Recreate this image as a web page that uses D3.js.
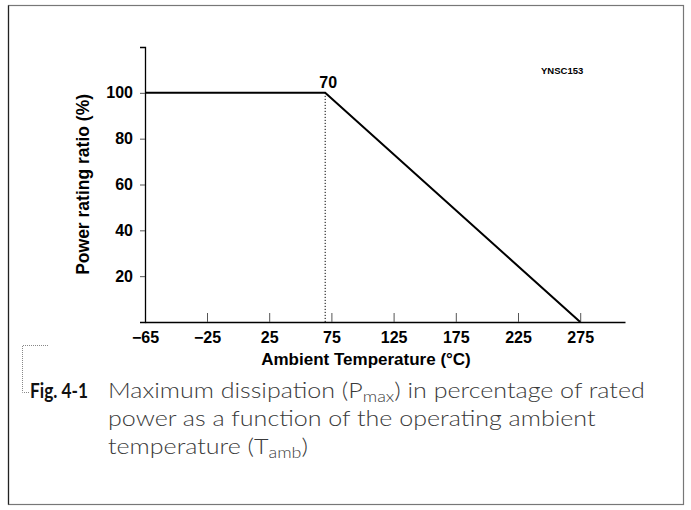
<!DOCTYPE html>
<html><head><meta charset="utf-8">
<script src="https://cdn.jsdelivr.net/npm/d3@7"></script>
<style>body{margin:0;background:#fff}svg{display:block}</style>
</head><body>
<svg id="c" width="691" height="510"></svg>
<script>
// ---- data ----
const temperatures = [-65, 70, 275];
const powerRatio = [100, 100, 0];
const xTickValues = [-65, -25, 25, 75, 125, 175, 225, 275];
const yTickValues = [20, 40, 60, 80, 100];
const kneeTemp = 70;
const chartCode = "YNSC153";
const xTitle = "Ambient Temperature (°C)";
const yTitle = "Power rating ratio (%)";
const figLabel = "Fig. 4-1";
const captionLine1 = [["Maximum dissipation (P", false], ["max", true], [") in percentage of rated", false]];
const captionLine2 = [["power as a function of the operating ambient", false]];
const captionLine3 = [["temperature (T", false], ["amb", true], [")", false]];

// ---- drawing ----
const svg = d3.select("#c");
const FONT = "'Liberation Sans', Arial, Helvetica, sans-serif";
const CAPFONT = "Lato, 'Open Sans', 'DejaVu Sans', sans-serif";

// frame
svg.append("rect").attr("x", 8.5).attr("y", 5.5).attr("width", 675).attr("height", 499)
  .attr("fill", "none").attr("stroke", "#777").attr("stroke-width", 1.2);
svg.append("line").attr("x1", 8.5).attr("x2", 8.5).attr("y1", 5.5).attr("y2", 504.5)
  .attr("stroke", "#222").attr("stroke-width", 1.2);

const x = d3.scaleLinear().domain([-65, -25, 311]).range([145, 207, 625]);
const y = d3.scaleLinear().domain([0, 120]).range([322, 47]);

// x axis
const gx = svg.append("g").attr("transform", `translate(0,${y(0)})`)
  .call(d3.axisBottom(x).tickValues(xTickValues).tickSizeInner(-9).tickSizeOuter(0).tickPadding(10));
gx.select(".domain").attr("stroke", "#000").attr("stroke-width", 1.3);
gx.selectAll(".tick line").attr("stroke", "#555").attr("stroke-width", 1)
  .filter(d => d === -65).remove();
gx.selectAll(".tick text").attr("font-family", FONT).attr("font-weight", "bold")
  .attr("font-size", 16).attr("fill", "#000");

// y axis
const gy = svg.append("g").attr("transform", `translate(${x(-65)},0)`)
  .call(d3.axisLeft(y).tickValues(yTickValues).tickSize(5).tickPadding(7));
gy.select(".domain").attr("stroke", "#000").attr("stroke-width", 1.3);
gy.selectAll(".tick line").attr("stroke", "#555").attr("stroke-width", 1);
gy.selectAll(".tick text").attr("font-family", FONT).attr("font-weight", "bold")
  .attr("font-size", 16).attr("fill", "#000");

// dotted knee line
svg.append("line")
  .attr("x1", x(kneeTemp)).attr("x2", x(kneeTemp))
  .attr("y1", y(100)).attr("y2", y(0))
  .attr("stroke", "#000").attr("stroke-width", 1).attr("stroke-dasharray", "1.2,1.8");

// derating curve
const pts = temperatures.map((t, i) => [t, powerRatio[i]]);
svg.append("path").datum(pts)
  .attr("d", d3.line().x(d => x(d[0])).y(d => y(d[1])))
  .attr("fill", "none").attr("stroke", "#000").attr("stroke-width", 2);

// knee label
svg.append("text").attr("x", x(kneeTemp) + 3).attr("y", y(100) - 5)
  .attr("text-anchor", "middle").attr("font-family", FONT).attr("font-weight", "bold")
  .attr("font-size", 16).text(String(kneeTemp));

// code label
svg.append("text").attr("x", 541).attr("y", 74)
  .attr("font-family", FONT).attr("font-weight", "bold").attr("font-size", 9.5)
  .text(chartCode);

// axis titles
svg.append("text").attr("transform", `translate(89,${(y(0) + y(100)) / 2 - 23}) rotate(-90)`)
  .attr("text-anchor", "middle").attr("font-family", FONT).attr("font-weight", "bold")
  .attr("font-size", 17.5).text(yTitle);
svg.append("text").attr("x", 366).attr("y", 365)
  .attr("text-anchor", "middle").attr("font-family", FONT).attr("font-weight", "bold")
  .attr("font-size", 17).text(xTitle);

// caption bracket (dotted)
svg.append("path").attr("d", "M48,345.5 H22.5 V392.5 H30")
  .attr("fill", "none").attr("stroke", "#888").attr("stroke-width", 1).attr("stroke-dasharray", "1,1");

const fig = svg.append("text").attr("x", 0).attr("y", 398)
  .attr("font-family", CAPFONT).attr("font-weight", "bold").attr("font-size", 21)
  .attr("fill", "#111").text(figLabel);
const figW = fig.node().getComputedTextLength();
fig.attr("transform", `translate(30,0) scale(${58 / figW},1)`);

const lines = [captionLine1, captionLine2, captionLine3];
const capNodes = lines.map((segs, li) => {
  const t = svg.append("text").attr("x", 0).attr("y", 398 + li * 28)
    .attr("font-family", CAPFONT).attr("font-weight", 300).attr("font-size", 21).attr("fill", "#3a3a3a");
  let shifted = false;
  segs.forEach(([s, sub]) => {
    const ts = t.append("tspan").text(s);
    if (sub && !shifted) { ts.attr("dy", 4).attr("font-size", 15); shifted = true; }
    else if (!sub && shifted) { ts.attr("dy", -4); shifted = false; }
  });
  return t;
});
const sx = 537 / capNodes[0].node().getComputedTextLength();
capNodes.forEach(t => t.attr("transform", `translate(108,0) scale(${sx},1)`));
</script>
</body></html>
